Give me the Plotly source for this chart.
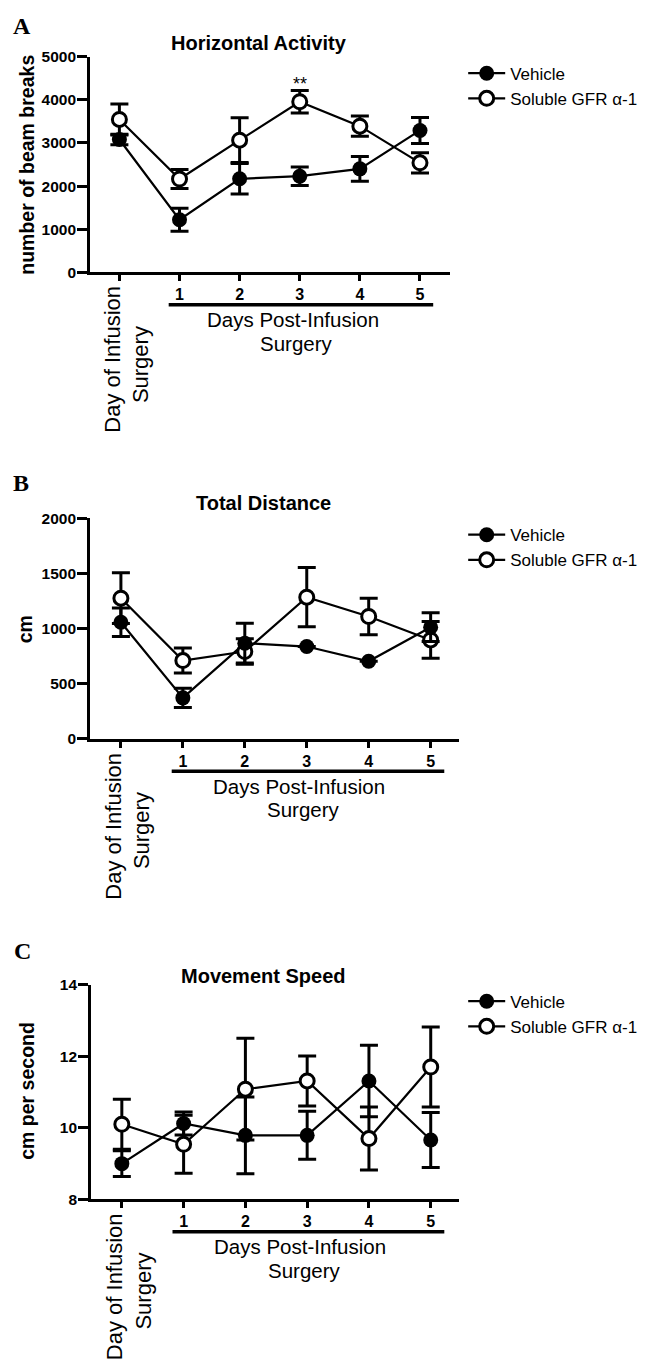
import plotly.graph_objects as go

# ---------------- data ----------------
days = [0, 1, 2, 3, 4, 5]
day_tick_text = ["", "1", "2", "3", "4", "5"]
series_names = ["Vehicle", "Soluble GFR α-1"]

# A: Horizontal Activity (number of beam breaks)
horiz_vehicle = [3080, 1220, 2170, 2230, 2400, 3290]
horiz_vehicle_err = [120, 265, 355, 215, 285, 300]
horiz_soluble = [3545, 2165, 3065, 3955, 3390, 2540]
horiz_soluble_err = [360, 220, 520, 260, 235, 235]

# B: Total Distance (cm)
dist_vehicle = [1057, 372, 867, 837, 704, 1012]
dist_vehicle_err = [130, 88, 180, 0, 0, 130]
dist_soluble = [1275, 710, 792, 1284, 1109, 897]
dist_soluble_err = [230, 113, 115, 268, 165, 166]

# C: Movement Speed (cm per second)
speed_vehicle = [9.00, 10.12, 9.79, 9.79, 11.31, 9.66]
speed_vehicle_err = [0.36, 0.32, 1.07, 0.67, 1.00, 0.77]
speed_soluble = [10.10, 9.54, 11.08, 11.31, 9.70, 11.70]
speed_soluble_err = [0.70, 0.81, 1.42, 0.70, 0.88, 1.12]

panel_letters = ["A", "B", "C"]
panel_titles = ["Horizontal Activity", "Total Distance", "Movement Speed"]
y_titles = ["number of beam breaks", "cm", "cm per second"]
y_ticks_A = [0, 1000, 2000, 3000, 4000, 5000]
y_ticks_B = [0, 500, 1000, 1500, 2000]
y_ticks_C = [8, 10, 12, 14]
day0_lines = ["Day of Infusion", "Surgery"]
post_lines = ["Days Post-Infusion", "Surgery"]
sig_text = "**"
sig_day = 3
sig_value = 4370

# ---------------- page geometry ----------------
# Layout positions below are screen pixels; they are converted to figure
# coordinates taking into account the page offset/scale of the rendered page.
OFFX, OFFY, S = 9.0, 17.3, 0.9886
W, H = 646, 1364
SANS = "Liberation Sans, Arial, sans-serif"
SERIF = "Liberation Serif, Times New Roman, serif"

panels = [
    dict(x0=90, x1=446, top=57, bot=273, xr=[-0.49, 5.5], yr=[0, 5000], yt=y_ticks_A,
         veh=horiz_vehicle, veh_e=horiz_vehicle_err, sol=horiz_soluble, sol_e=horiz_soluble_err,
         title_xy=(257, 43), letter_xy=(23, 26), ytitle_xy=(27, 165), legend_xy=(459, 56)),
    dict(x0=90, x1=455, top=519, bot=740, xr=[-0.5, 5.46], yr=[0, 2000], yt=y_ticks_B,
         veh=dist_vehicle, veh_e=dist_vehicle_err, sol=dist_soluble, sol_e=dist_soluble_err,
         title_xy=(262, 504), letter_xy=(22, 484), ytitle_xy=(26, 630), legend_xy=(459, 518)),
    dict(x0=91, x1=455, top=986, bot=1201, xr=[-0.5, 5.46], yr=[8, 14], yt=y_ticks_C,
         veh=speed_vehicle, veh_e=speed_vehicle_err, sol=speed_soluble, sol_e=speed_soluble_err,
         title_xy=(261, 977), letter_xy=(23, 952), ytitle_xy=(27, 1092), legend_xy=(459, 985)),
]


def px(x):
    return ((x - OFFX) / S) / W


def py(y):
    return 1 - ((y - OFFY) / S) / H


def sc(v):
    return v / S


fig = go.Figure()
annotations = []
shapes = []
layout_axes = {}

for i, p in enumerate(panels):
    n = "" if i == 0 else str(i + 1)
    xa, ya = "x" + n, "y" + n
    leg = "legend" + n

    # Soluble (open) first so Vehicle markers sit on top
    fig.add_trace(go.Scatter(
        x=days, y=p["sol"], name=series_names[1], xaxis=xa, yaxis=ya, legend=leg,
        legendrank=2, legendgroup="sol" + n, mode="lines+markers",
        line=dict(color="black", width=2.2),
        marker=dict(symbol="circle", size=14, color="white", line=dict(color="black", width=3)),
        error_y=dict(type="data", array=p["sol_e"], visible=True, color="black", thickness=3, width=9),
        cliponaxis=False, hoverinfo="x+y",
    ))
    fig.add_trace(go.Scatter(
        x=days, y=p["veh"], name=series_names[0], xaxis=xa, yaxis=ya, legend=leg,
        legendrank=1, legendgroup="veh" + n, mode="lines+markers",
        line=dict(color="black", width=2.2),
        marker=dict(symbol="circle", size=15, color="black", line=dict(color="black", width=0)),
        error_y=dict(type="data", array=p["veh_e"], visible=True, color="black", thickness=3, width=9),
        cliponaxis=False, hoverinfo="x+y",
    ))

    layout_axes["xaxis" + n] = dict(
        domain=[px(p["x0"]), px(p["x1"])], range=p["xr"], anchor=ya,
        tickmode="array", tickvals=days, ticktext=day_tick_text,
        ticks="outside", ticklen=6, tickwidth=2.5, tickcolor="black",
        showline=True, linewidth=2.5, linecolor="black", showgrid=False, zeroline=False,
        tickfont=dict(family=SANS, size=16, color="black", weight="bold"),
        fixedrange=True,
    )
    layout_axes["yaxis" + n] = dict(
        domain=[py(p["bot"]), py(p["top"])], range=p["yr"], anchor=xa,
        tickmode="array", tickvals=p["yt"],
        ticks="outside", ticklen=10, tickwidth=2.5, tickcolor="black",
        showline=True, linewidth=2.5, linecolor="black", showgrid=False, zeroline=False,
        tickfont=dict(family=SANS, size=15.5, color="black", weight="bold"),
        ticklabelstandoff=-2,
        fixedrange=True,
    )
    layout_axes[leg] = dict(
        x=px(p["legend_xy"][0]), y=py(p["legend_xy"][1]), xanchor="left", yanchor="top",
        font=dict(family=SANS, size=17, color="black"), bgcolor="rgba(0,0,0,0)",
        tracegroupgap=8, itemwidth=37, traceorder="normal",
    )

    # panel letter, title, y title
    annotations.append(dict(text="<b>%s</b>" % panel_letters[i], x=px(p["letter_xy"][0]), y=py(p["letter_xy"][1]),
                            xref="paper", yref="paper", showarrow=False, xanchor="center", yanchor="middle",
                            font=dict(family=SERIF, size=24, color="black")))
    annotations.append(dict(text="<b>%s</b>" % panel_titles[i], x=px(p["title_xy"][0]), y=py(p["title_xy"][1]),
                            xref="paper", yref="paper", showarrow=False, xanchor="center", yanchor="middle",
                            font=dict(family=SANS, size=20, color="black")))
    annotations.append(dict(text="<b>%s</b>" % y_titles[i], x=px(p["ytitle_xy"][0]), y=py(p["ytitle_xy"][1]),
                            xref="paper", yref="paper", showarrow=False, xanchor="center", yanchor="middle",
                            textangle=-90, font=dict(family=SANS, size=19.5, color="black")))
    # rotated label under day 0
    for txt, xs, ys in zip(day0_lines, [-7, 21], [-86, -91]):
        annotations.append(dict(text=txt, x=0, y=0, xref=xa, yref=ya + " domain", showarrow=False,
                                xanchor="center", yanchor="middle", xshift=sc(xs), yshift=sc(ys), textangle=-90,
                                font=dict(family=SANS, size=22, color="black")))
    # "Days Post-Infusion Surgery" under the bar
    for txt, xv, ys in zip(post_lines, [2.88, 2.95], [-47, -70]):
        annotations.append(dict(text=txt, x=xv, y=0, xref=xa, yref=ya + " domain", showarrow=False,
                                xanchor="center", yanchor="middle", yshift=sc(ys),
                                font=dict(family=SANS, size=20.5, color="black")))
    shapes.append(dict(type="line", xref=xa, yref=ya + " domain", x0=0.82, x1=5.22,
                       ysizemode="pixel", yanchor=0, y0=sc(-32), y1=sc(-32),
                       line=dict(color="black", width=3.5)))

annotations.append(dict(text=sig_text, x=sig_day, y=sig_value, xref="x", yref="y", showarrow=False,
                        xanchor="center", yanchor="middle", font=dict(family=SANS, size=18, color="black")))

fig.update_layout(
    width=W, height=H, margin=dict(l=0, r=0, t=0, b=0),
    paper_bgcolor="white", plot_bgcolor="white",
    showlegend=True, annotations=annotations, shapes=shapes,
    font=dict(family=SANS, color="black"),
    **layout_axes,
)

fig.write_html("out.html")
